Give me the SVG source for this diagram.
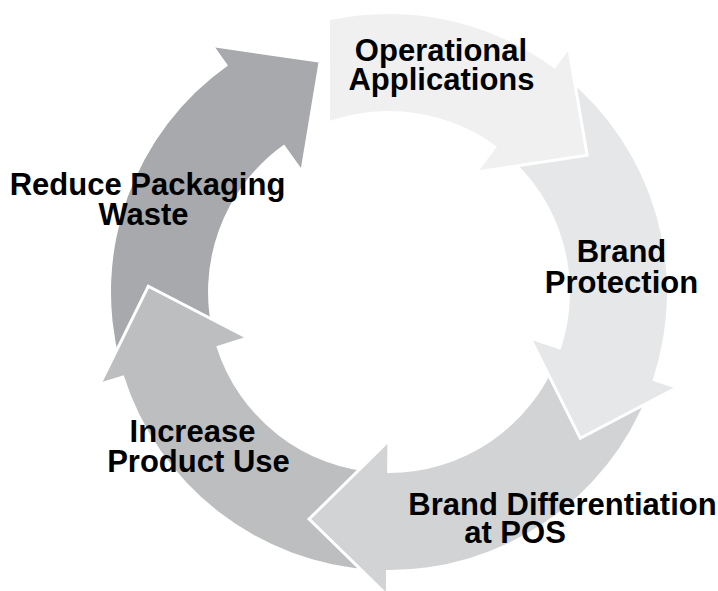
<svg xmlns="http://www.w3.org/2000/svg" width="718" height="591" viewBox="0 0 718 591">
<defs>
<style>
.arrow{stroke:#ffffff;stroke-width:6;stroke-linejoin:miter;paint-order:stroke}
.lbl{font-family:"Liberation Sans",Arial,sans-serif;font-weight:bold;font-size:31px;fill:#000000;text-anchor:middle}
</style>
<path id="seg" d="M 486.4 31.6 A 278 278 0 0 1 667 292 L 689 292 L 616.9 367.4 L 541 292 L 570 292 A 181 181 0 0 0 452.4 122.5 Z"/>
</defs>
<rect width="718" height="591" fill="#ffffff"/>
<g id="node-reduce">
<use href="#seg" class="arrow" fill="#a7a9ac" transform="rotate(234.6 389 292)"/>
<text class="lbl" x="147.5" y="195">Reduce Packaging</text>
<text class="lbl" x="143.5" y="225">Waste</text>
</g>
<g id="node-increase">
<use href="#seg" class="arrow" fill="#bcbec0" transform="rotate(162.6 389 292)"/>
<text class="lbl" x="192.5" y="442">Increase</text>
<text class="lbl" x="198.5" y="472">Product Use</text>
</g>
<g id="node-differentiation">
<use href="#seg" class="arrow" fill="#d1d3d4" transform="rotate(90.6 389 292)"/>
<text class="lbl" x="562.5" y="515">Brand Differentiation</text>
<text class="lbl" x="515" y="543">at POS</text>
</g>
<g id="node-protection">
<use href="#seg" class="arrow" fill="#e6e7e8" transform="rotate(18.6 389 292)"/>
<text class="lbl" x="621.5" y="262">Brand</text>
<text class="lbl" x="621.5" y="293">Protection</text>
</g>
<g id="node-operational">
<path class="arrow" fill="#f0f0f1" transform="rotate(306.6 389 292)" d="M 571.9 82.7 A 278 278 0 0 1 667 292 L 689 292 L 616.9 367.4 L 541 292 L 570 292 A 181 181 0 0 0 491.3 142.7 Z"/>
<text class="lbl" x="441" y="61">Operational</text>
<text class="lbl" x="441.5" y="90">Applications</text>
</g>
</svg>
